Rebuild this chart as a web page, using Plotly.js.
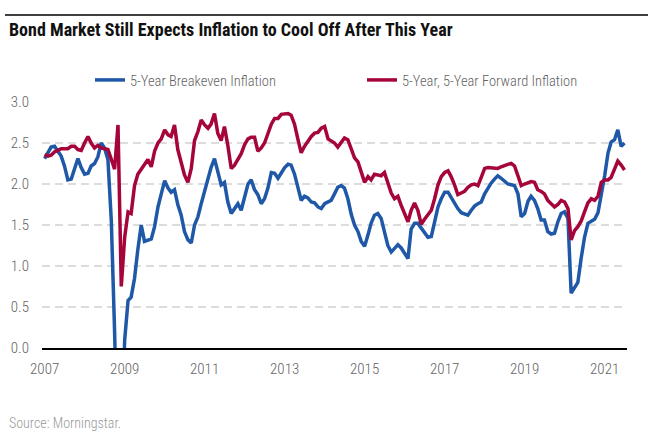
<!DOCTYPE html>
<html>
<head>
<meta charset="utf-8">
<script src="https://cdn.plot.ly/plotly-3.0.1.min.js"></script>
<style>html,body{margin:0;padding:0;background:#fff;}#chart{width:648px;height:446px;}</style>
</head>
<body>
<div id="chart"></div>
<script>
// Monthly observations, Jan 2007 .. Jul 2021
const startYear = 2007;
const startMonth = 1;

const breakeven5y = [
  2.31, 2.39, 2.45, 2.46, 2.40, 2.34, 2.22, 2.05, 2.06, 2.20,
  2.31, 2.20, 2.12, 2.13, 2.22, 2.25, 2.33, 2.50, 2.44, 2.30,
  1.55, 0.20, -1.50, -1.20, 0.10, 0.58, 0.62, 0.85, 1.20, 1.50,
  1.30, 1.31, 1.33, 1.48, 1.72, 1.88, 2.04, 1.95, 1.90, 1.93,
  1.75, 1.62, 1.42, 1.32, 1.28, 1.50, 1.60, 1.76, 1.92, 2.05,
  2.20, 2.31, 2.15, 1.99, 2.02, 1.78, 1.64, 1.70, 1.76, 1.68,
  1.85, 2.00, 2.05, 1.93, 1.87, 1.76, 1.82, 1.95, 2.14, 2.13,
  2.07, 2.14, 2.20, 2.24, 2.23, 2.12, 1.95, 1.80, 1.85, 1.83,
  1.78, 1.77, 1.72, 1.70, 1.76, 1.78, 1.80, 1.88, 1.96, 1.98,
  1.95, 1.82, 1.63, 1.50, 1.42, 1.30, 1.24, 1.38, 1.52, 1.62,
  1.64, 1.58, 1.40, 1.25, 1.17, 1.21, 1.26, 1.22, 1.15, 1.09,
  1.45, 1.52, 1.52, 1.46, 1.40, 1.35, 1.36, 1.56, 1.72, 1.82,
  1.90, 1.90, 1.84, 1.76, 1.70, 1.65, 1.64, 1.62, 1.68, 1.73,
  1.76, 1.78, 1.88, 1.96, 2.01, 2.06, 2.10, 2.07, 2.04, 2.00,
  1.99, 1.98, 1.88, 1.60, 1.64, 1.79, 1.85, 1.80, 1.70, 1.56,
  1.56, 1.42, 1.39, 1.40, 1.54, 1.64, 1.66, 1.58, 0.67, 0.74,
  0.80, 1.10, 1.35, 1.52, 1.54, 1.57, 1.65, 1.85, 2.10, 2.38,
  2.51, 2.54, 2.66, 2.46, 2.50
];

const forward5y5y = [
  2.36, 2.34, 2.35, 2.39, 2.41, 2.43, 2.43, 2.43, 2.46, 2.46,
  2.42, 2.41, 2.50, 2.58, 2.50, 2.44, 2.47, 2.44, 2.43, 2.42,
  2.30, 2.18, 2.72, 0.75, 1.35, 1.66, 1.64, 1.98, 2.12, 2.18,
  2.25, 2.30, 2.21, 2.40, 2.50, 2.55, 2.66, 2.60, 2.58, 2.72,
  2.42, 2.24, 2.11, 2.02, 2.19, 2.53, 2.64, 2.78, 2.72, 2.68,
  2.73, 2.86, 2.62, 2.53, 2.70, 2.47, 2.19, 2.23, 2.30, 2.37,
  2.48, 2.55, 2.57, 2.57, 2.40, 2.44, 2.50, 2.62, 2.73, 2.80,
  2.80, 2.85, 2.86, 2.86, 2.84, 2.73, 2.55, 2.38, 2.46, 2.53,
  2.58, 2.62, 2.63, 2.68, 2.70, 2.55, 2.53, 2.50, 2.45, 2.51,
  2.56, 2.54, 2.42, 2.32, 2.27, 2.13, 2.02, 2.09, 2.05, 2.12,
  2.11, 2.10, 2.14, 2.01, 1.89, 1.82, 1.85, 1.74, 1.64, 1.54,
  1.68, 1.77, 1.68, 1.51, 1.57, 1.63, 1.68, 1.82, 1.99, 2.09,
  2.14, 2.16, 2.09, 1.99, 1.87, 1.89, 1.91, 1.96, 1.99, 2.00,
  1.98, 2.08, 2.19, 2.20, 2.20, 2.19, 2.19, 2.21, 2.23, 2.24,
  2.25, 2.22, 2.10, 1.98, 2.00, 2.02, 2.03, 2.02, 1.93, 1.91,
  1.88, 1.80, 1.76, 1.72, 1.75, 1.80, 1.78, 1.70, 1.32, 1.43,
  1.48, 1.55, 1.66, 1.77, 1.82, 1.80, 1.85, 2.02, 2.05, 2.05,
  2.08, 2.18, 2.28, 2.23, 2.17
];

const seriesNames = ['5-Year Breakeven Inflation', '5-Year, 5-Year Forward Inflation'];
const yTickVals = [0, 0.5, 1.0, 1.5, 2.0, 2.5, 3.0];
const yTickText = ['0.0', '0.5', '1.0', '1.5', '2.0', '2.5', '3.0'];
const xTickVals = ['2007-01-01','2009-01-01','2011-01-01','2013-01-01','2015-01-01','2017-01-01','2019-01-01','2021-01-01'];
const xTickText = ['2007','2009','2011','2013','2015','2017','2019','2021'];
const titleText = 'Bond Market Still Expects Inflation to Cool Off After This Year';
const sourceText = 'Source: Morningstar.';

// month labels for the x axis
const dates = breakeven5y.map((_, i) => {
  const total = (startMonth - 1) + i;
  const y = startYear + Math.floor(total / 12);
  const m = (total % 12) + 1;
  return y + '-' + String(m).padStart(2, '0') + '-01';
});

const FONT = 'Roboto Condensed, Liberation Sans, sans-serif';

const traces = [
  {
    x: dates, y: breakeven5y, type: 'scatter', mode: 'lines',
    name: seriesNames[0], legend: 'legend',
    line: {color: '#1F58A6', width: 3.5}
  },
  {
    x: dates, y: forward5y5y, type: 'scatter', mode: 'lines',
    name: seriesNames[1], legend: 'legend2',
    line: {color: '#A6053A', width: 3.5}
  }
];

const legendFont = {family: FONT, size: 14.5, color: '#636363', weight: 300};
const tickFont = {family: FONT, size: 15, color: '#636363', weight: 300};

const layout = {
  width: 648, height: 446,
  margin: {l: 42, r: 21, t: 102, b: 98, pad: 0},
  paper_bgcolor: '#fff', plot_bgcolor: '#fff',
  title: {
    text: titleText,
    font: {family: FONT, size: 18, color: '#111', weight: 'bold'},
    xref: 'container', yref: 'container',
    x: 9/648, xanchor: 'left', y: 1 - 30/446, yanchor: 'middle'
  },
  xaxis: {
    type: 'date',
    range: ['2006-12-08', '2021-07-24'],
    tickmode: 'array', tickvals: xTickVals, ticktext: xTickText,
    showgrid: false, zeroline: false,
    showline: true, linecolor: '#000', linewidth: 1.5,
    ticks: '', ticklabelstandoff: 6,
    tickfont: tickFont,
    fixedrange: true
  },
  yaxis: {
    range: [0, 3],
    tickmode: 'array', tickvals: yTickVals, ticktext: yTickText,
    showgrid: true, gridcolor: '#dcdcdc', gridwidth: 1.5, griddash: '8px,5px',
    zeroline: false, showline: false,
    ticks: '', ticklabelstandoff: 12,
    tickfont: tickFont,
    fixedrange: true
  },
  showlegend: true,
  legend: {
    orientation: 'h', x: (90 - 42) / 585, xanchor: 'left',
    y: (348 - 80) / 246, yanchor: 'middle',
    font: legendFont, bgcolor: 'rgba(0,0,0,0)', borderwidth: 0
  },
  legend2: {
    orientation: 'h', x: (362 - 42) / 585, xanchor: 'left',
    y: (348 - 80) / 246, yanchor: 'middle',
    font: legendFont, bgcolor: 'rgba(0,0,0,0)', borderwidth: 0
  },
  shapes: [
    {type: 'line', xref: 'paper', yref: 'paper',
     x0: (5 - 42) / 585, x1: (648 - 42) / 585,
     y0: (348 - 15) / 246, y1: (348 - 15) / 246,
     line: {color: '#000', width: 1.5}}
  ],
  annotations: [
    {text: sourceText, xref: 'paper', yref: 'paper',
     x: (7 - 42) / 585, xanchor: 'left', y: (348 - 423) / 246, yanchor: 'middle',
     showarrow: false, font: {family: FONT, size: 14, color: '#9a9a9a', weight: 300}}
  ]
};

Plotly.newPlot('chart', traces, layout, {displayModeBar: false, staticPlot: true});
</script>
</body>
</html>
